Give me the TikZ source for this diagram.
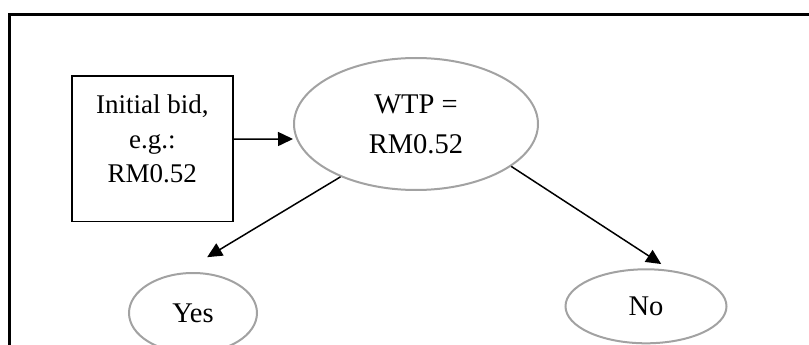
\documentclass[tikz,border=0pt]{standalone}
\usepackage{fontspec}
\setmainfont{Liberation Serif}
\usetikzlibrary{positioning, arrows.meta, shapes.geometric}
\definecolor{ovalgray}{HTML}{A2A2A2}

\begin{document}
\begin{tikzpicture}[
  x=1pt, y=1pt,
  bidbox/.style={
    rectangle, draw=black, line width=1.8pt,
    minimum width=161pt, minimum height=145.5pt,
    inner sep=0pt, align=center,
    font=\fontsize{27pt}{34.5pt}\selectfont,
  },
  oval/.style={
    ellipse, draw=ovalgray, line width=2pt,
    inner sep=0pt, align=center,
    font=\fontsize{28.5pt}{40pt}\selectfont,
  },
  edge/.style={-{Triangle[length=15pt,width=14pt]}, line width=1.5pt},
]
\useasboundingbox (0,0) rectangle (809,-345);
% page frame, only top and left edges show
\draw[line width=2.2pt] (9.5,-345) -- (9.5,-14.5) -- (809,-14.5);

\node[bidbox] (bid) at (152.3,-148.8) {Initial bid,\\e.g.:\\RM0.52\rule[-20pt]{0pt}{0pt}};
\node[oval, minimum width=244pt, minimum height=132pt] (wtp) at (416,-124) {WTP =\\RM0.52};
\node[oval, minimum width=128pt, minimum height=80pt] (yes) at (193,-313) {Yes};
\node[oval, minimum width=161pt, minimum height=74pt] (no) at (646,-306.3) {No};

\draw[edge] ([yshift=9.75pt]bid.east) -- ([yshift=-15pt]wtp.west);
\draw[edge, shorten >=30pt] (wtp.215) -- (yes.106);
\draw[edge, shorten >=11pt] (wtp.336) -- (no.56);
\end{tikzpicture}
\end{document}
